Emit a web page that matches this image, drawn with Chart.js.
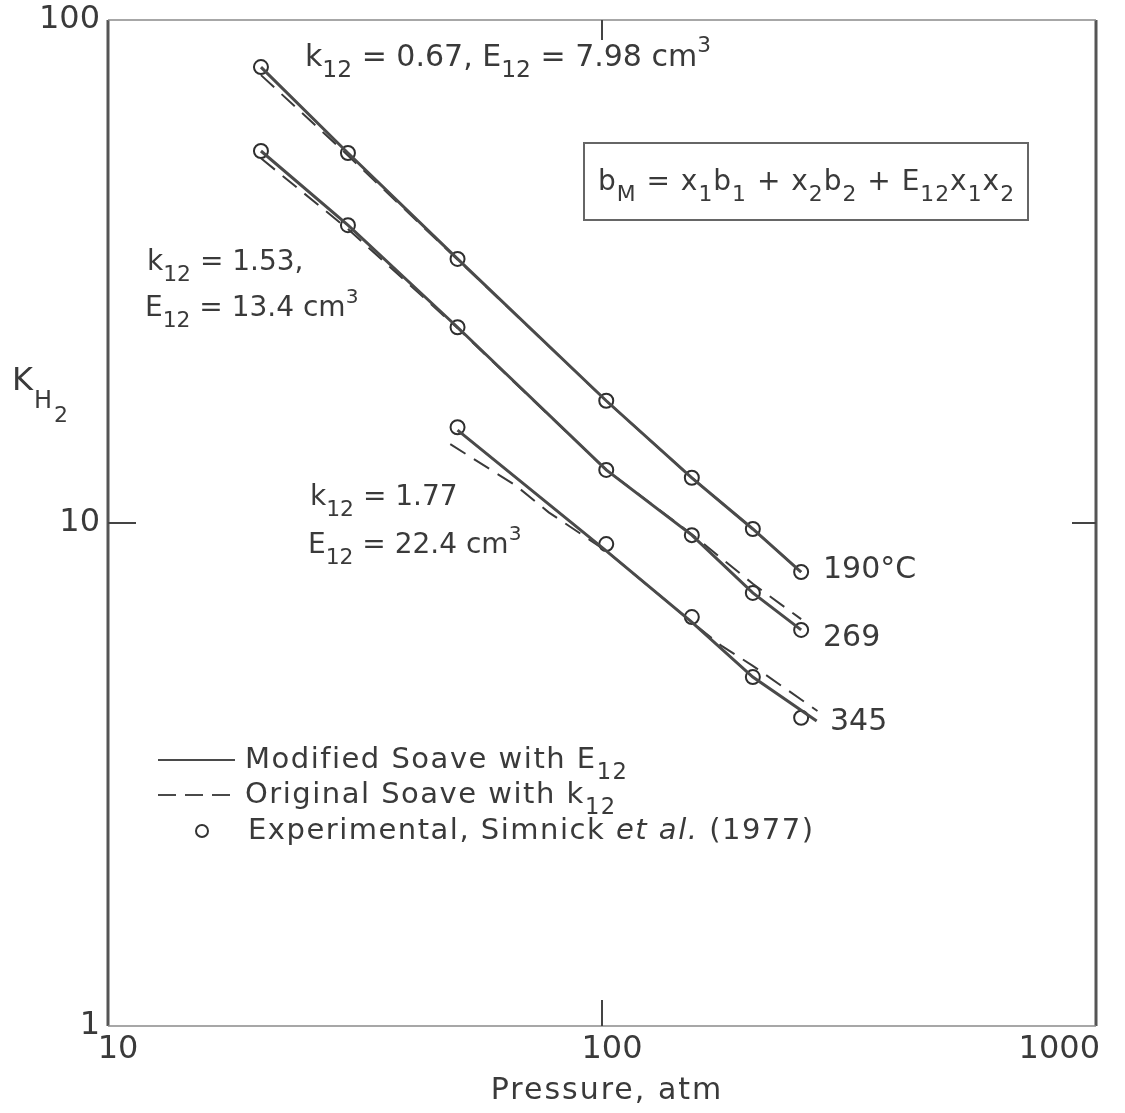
<!DOCTYPE html>
<html lang="en">
<head>
  <meta charset="UTF-8" />
  <title>K of H2 vs Pressure</title>
  <script src="https://cdn.jsdelivr.net/npm/chart.js"></script>
  <style>
    body {
      margin: 0;
      background: #ffffff;
    }

    .chart-box {
      width: 1125px;
      height: 1113px;
      position: relative;
    }
  </style>
</head>
<body>

  <div class="chart-box">
    <canvas id="khChart"></canvas>
  </div>

  <script>
    // experimental points (Simnick et al. 1977)
    const pressure = [20.4, 30.6, 51, 102, 152, 202, 253];
    const exp190 = [80.6, 54.4, 33.5, 17.5, 12.3, 9.73, 7.99];
    const exp269 = [54.9, 39.1, 24.5, 12.75, 9.46, 7.26, 6.13];
    const pressure345 = [51, 102, 152, 202, 253];
    const exp345 = [15.5, 9.08, 6.5, 4.94, 4.1];

    // Modified Soave with E12 (solid)
    const mod190 = [80.6, 54.4, 33.5, 17.5, 12.3, 9.73, 7.99];
    const mod269 = [54.9, 39.1, 24.5, 12.75, 9.46, 7.26, 6.13];
    const modP345 = [51, 102, 152, 202, 272];
    const mod345 = [15.3, 8.8, 6.35, 4.94, 4.04];

    // Original Soave with k12 (dashed)
    const orig190 = [77.7, 53.8, 33.4, 17.5, 12.3, 9.73, 7.99];
    const orig269 = [53.1, 38.4, 24.4, 12.75, 9.5, 7.57, 6.44];
    const origP345 = [49.3, 67, 78, 102, 152, 175, 202, 273];
    const orig345 = [14.35, 11.86, 10.5, 8.8, 6.35, 5.69, 5.2, 4.23];

    const xTicks = [10, 100, 1000];
    const yTicks = [1, 10, 100];

    const INK = '#3a3a3a';
    const FONT = '"DejaVu Sans", sans-serif';

    function pts(xs, ys) {
      return xs.map((x, i) => ({ x: x, y: ys[i] }));
    }

    function solid(data) {
      return { data: data, borderColor: '#4a4a4a', borderWidth: 3, pointRadius: 0, showLine: true, fill: false };
    }

    function dashed(data) {
      return { data: data, borderColor: '#3a3a3a', borderWidth: 2, borderDash: [18, 10], pointRadius: 0, showLine: true, fill: false };
    }

    function circles(data) {
      return {
        data: data, showLine: false, pointRadius: 7, pointBorderWidth: 2,
        pointBackgroundColor: '#ffffff', pointBorderColor: '#2e2e2e', pointStyle: 'circle'
      };
    }

    // draws a run of text pieces: n = normal, s = subscript, p = superscript
    function rich(ctx, x, y, parts, size) {
      let cx = x;
      parts.forEach(([txt, kind]) => {
        let fs = size, dy = 0;
        if (kind === 's') { fs = size * 0.78; dy = size * 0.38; }
        if (kind === 'p') { fs = size * 0.72; dy = -size * 0.48; }
        ctx.font = fs + 'px ' + FONT;
        ctx.fillText(txt, cx, y + dy);
        cx += ctx.measureText(txt).width;
      });
      return cx;
    }

    const decorPlugin = {
      id: 'decor',
      afterDraw(chart) {
        const ctx = chart.ctx;
        const a = chart.chartArea;
        const xs = chart.scales.x;
        const ys = chart.scales.y;
        ctx.save();

        // frame
        ctx.strokeStyle = '#555';
        ctx.lineWidth = 3;
        ctx.beginPath();
        ctx.moveTo(a.left, a.top); ctx.lineTo(a.left, a.bottom);
        ctx.moveTo(a.right, a.top); ctx.lineTo(a.right, a.bottom);
        ctx.stroke();
        ctx.strokeStyle = '#8a8a8a';
        ctx.lineWidth = 1.5;
        ctx.beginPath();
        ctx.moveTo(a.left, a.top); ctx.lineTo(a.right, a.top);
        ctx.moveTo(a.left, a.bottom); ctx.lineTo(a.right, a.bottom);
        ctx.stroke();

        // inward tick marks at 100 atm and K = 10
        ctx.strokeStyle = '#444';
        ctx.lineWidth = 2;
        const px100 = xs.getPixelForValue(100);
        const py10 = ys.getPixelForValue(10);
        ctx.beginPath();
        ctx.moveTo(px100, a.top); ctx.lineTo(px100, a.top + 20);
        ctx.moveTo(px100, a.bottom); ctx.lineTo(px100, a.bottom - 26);
        ctx.moveTo(a.left, py10); ctx.lineTo(a.left + 28, py10);
        ctx.moveTo(a.right, py10); ctx.lineTo(a.right - 24, py10);
        ctx.stroke();

        ctx.fillStyle = INK;

        // tick labels
        ctx.font = '32px ' + FONT;
        ctx.textAlign = 'right';
        ctx.textBaseline = 'middle';
        yTicks.forEach(v => ctx.fillText(String(v), a.left - 8, ys.getPixelForValue(v)));
        ctx.textBaseline = 'alphabetic';
        xTicks.forEach((v, i) => {
          const p = xs.getPixelForValue(v);
          if (i === xTicks.length - 1) {
            ctx.textAlign = 'right';
            ctx.fillText(String(v), p + 4, 1058);
          } else {
            ctx.textAlign = 'center';
            ctx.fillText(String(v), p + 10, 1058);
          }
        });

        // axis titles
        ctx.textAlign = 'center';
        ctx.font = '30px ' + FONT;
        ctx.letterSpacing = '2px';
        ctx.fillText('Pressure, atm', 607, 1099);
        ctx.letterSpacing = '0px';
        ctx.textAlign = 'left';
        ctx.font = '32px ' + FONT;
        ctx.fillText('K', 12, 390);
        ctx.font = '24px ' + FONT;
        ctx.fillText('H', 34, 408);
        ctx.font = '22px ' + FONT;
        ctx.fillText('2', 54, 422);

        // curve annotations
        rich(ctx, 305, 66, [['k', 'n'], ['12', 's'], [' = 0.67, E', 'n'], ['12', 's'], [' = 7.98 cm', 'n'], ['3', 'p']], 30);
        rich(ctx, 147, 270, [['k', 'n'], ['12', 's'], [' = 1.53,', 'n']], 28);
        rich(ctx, 145, 316, [['E', 'n'], ['12', 's'], [' = 13.4 cm', 'n'], ['3', 'p']], 28);
        rich(ctx, 310, 505, [['k', 'n'], ['12', 's'], [' = 1.77', 'n']], 28);
        rich(ctx, 308, 553, [['E', 'n'], ['12', 's'], [' = 22.4 cm', 'n'], ['3', 'p']], 28);

        ctx.font = '30px ' + FONT;
        ctx.fillText('190°C', 823, 578);
        ctx.fillText('269', 823, 646);
        ctx.fillText('345', 830, 730);

        // mixing rule box
        ctx.strokeStyle = '#666';
        ctx.lineWidth = 2;
        ctx.strokeRect(584, 143, 444, 77);
        ctx.fillStyle = INK;
        ctx.letterSpacing = '1px';
        rich(ctx, 598, 190, [['b', 'n'], ['M', 's'], [' = x', 'n'], ['1', 's'], ['b', 'n'], ['1', 's'],
          [' + x', 'n'], ['2', 's'], ['b', 'n'], ['2', 's'], [' + E', 'n'], ['12', 's'], ['x', 'n'], ['1', 's'], ['x', 'n'], ['2', 's']], 28);
        ctx.letterSpacing = '0px';

        // legend
        ctx.strokeStyle = '#4a4a4a';
        ctx.lineWidth = 2;
        ctx.beginPath();
        ctx.moveTo(158, 760); ctx.lineTo(235, 760);
        ctx.stroke();
        ctx.setLineDash([18, 9]);
        ctx.beginPath();
        ctx.moveTo(158, 795); ctx.lineTo(235, 795);
        ctx.stroke();
        ctx.setLineDash([]);
        ctx.lineWidth = 2;
        ctx.strokeStyle = '#333';
        ctx.beginPath();
        ctx.arc(202, 831, 6, 0, Math.PI * 2);
        ctx.stroke();

        const L = 29;
        ctx.letterSpacing = '1.5px';
        rich(ctx, 245, 768, [['Modified Soave with E', 'n'], ['12', 's']], L);
        rich(ctx, 245, 803, [['Original Soave with k', 'n'], ['12', 's']], L);
        let ex = rich(ctx, 248, 839, [['Experimental, Simnick ', 'n']], L);
        ctx.font = 'italic ' + L + 'px ' + FONT;
        ctx.fillText('et al.', ex, 839);
        ex += ctx.measureText('et al.').width;
        ctx.font = L + 'px ' + FONT;
        ctx.fillText(' (1977)', ex, 839);
        ctx.letterSpacing = '0px';

        ctx.restore();
      }
    };

    const ctx = document.getElementById('khChart').getContext('2d');
    new Chart(ctx, {
      type: 'scatter',
      data: {
        datasets: [
          solid(pts(pressure, mod190)),
          solid(pts(pressure, mod269)),
          solid(pts(modP345, mod345)),
          dashed(pts(pressure, orig190)),
          dashed(pts(pressure, orig269)),
          dashed(pts(origP345, orig345)),
          circles(pts(pressure, exp190)),
          circles(pts(pressure, exp269)),
          circles(pts(pressure345, exp345))
        ]
      },
      options: {
        responsive: true,
        maintainAspectRatio: false,
        animation: false,
        layout: {
          padding: { left: 108, right: 29, top: 20, bottom: 87 }
        },
        plugins: {
          legend: { display: false },
          tooltip: { enabled: false }
        },
        scales: {
          x: { type: 'logarithmic', min: 10, max: 1000, display: false },
          y: { type: 'logarithmic', min: 1, max: 100, display: false }
        }
      },
      plugins: [decorPlugin]
    });
  </script>
</body>
</html>
